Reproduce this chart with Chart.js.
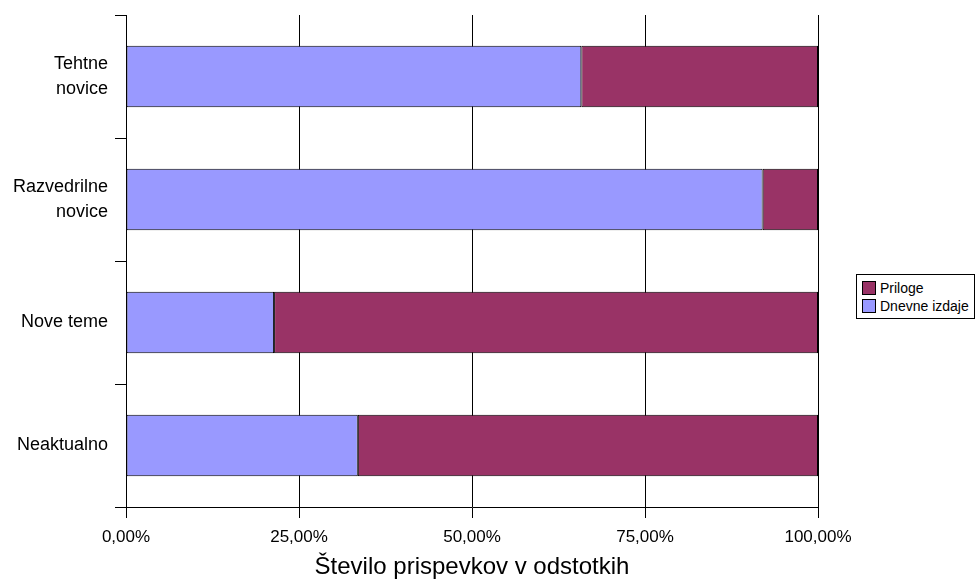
<!DOCTYPE html>
<html>
<head>
<meta charset="utf-8">
<script src="https://cdn.jsdelivr.net/npm/chart.js@4/dist/chart.umd.min.js"></script>
<style>
  html, body { margin: 0; padding: 0; background: #fff; }
  #wrap { position: relative; width: 976px; height: 582px; }
  canvas { display: block; }
  #legend {
    position: absolute; left: 856px; top: 274px; width: 117px; height: 43px;
    border: 1px solid #000; background: #fff;
    font-family: "Liberation Sans", Arial, sans-serif; font-size: 14px; color: #000;
  }
  .item { position: absolute; left: 5px; height: 16px; line-height: 16px; white-space: nowrap; }
  .sw { display: inline-block; width: 14px; height: 14px; border: 1px solid #000; box-sizing: border-box; vertical-align: top; margin-top: 1px; margin-right: 4px; }
</style>
</head>
<body>
<div id="wrap">
  <canvas id="c" width="976" height="582"></canvas>
  <div id="legend"></div>
</div>
<script>
const categories = [["Tehtne", "novice"], ["Razvedrilne", "novice"], "Nove teme", "Neaktualno"];
const dnevneIzdaje = [65.8, 92.0, 21.4, 33.5];
const priloge = [34.2, 8.0, 78.6, 66.5];
const seriesNames = ["Dnevne izdaje", "Priloge"];
const seriesColors = ["#9999FF", "#993366"];
const xTicks = [0, 25, 50, 75, 100];
const xTitle = "Število prispevkov v odstotkih";

const FONT = '"Liberation Sans", Arial, sans-serif';

new Chart(document.getElementById('c'), {
  type: 'bar',
  data: {
    labels: categories,
    datasets: [
      { label: seriesNames[0], data: dnevneIzdaje, backgroundColor: seriesColors[0], borderColor: '#000', borderWidth: 1, borderSkipped: false, categoryPercentage: 1, barPercentage: 0.5 },
      { label: seriesNames[1], data: priloge, backgroundColor: seriesColors[1], borderColor: '#000', borderWidth: 1, borderSkipped: false, categoryPercentage: 1, barPercentage: 0.5 }
    ]
  },
  options: {
    indexAxis: 'y',
    responsive: false,
    animation: false,
    layout: { padding: { left: 0, right: 158, top: 15, bottom: 0 } },
    plugins: { legend: { display: false }, tooltip: { enabled: false } },
    scales: {
      x: {
        stacked: true, min: 0, max: 100,
        afterBuildTicks: (s) => { s.ticks = xTicks.map(v => ({ value: v })); },
        afterFit: (s) => { s.height = 75; s.paddingLeft = 0; s.paddingRight = 0; },
        grid: { color: '#000', lineWidth: 1, tickLength: 11, drawTicks: true },
        border: { color: '#000', width: 1 },
        ticks: {
          color: '#000', padding: 9, maxRotation: 0,
          font: { family: FONT, size: 17 },
          callback: (v) => Number(v).toFixed(2).replace('.', ',') + '%'
        },
        title: { display: true, text: xTitle, color: '#000', font: { family: FONT, size: 24 }, padding: { top: 0, bottom: 0 } }
      },
      y: {
        stacked: true,
        afterFit: (s) => { s.width = 126; s.paddingTop = 0; s.paddingBottom = 0; },
        grid: { offset: true, drawOnChartArea: false, drawTicks: true, tickLength: 11, color: '#000' },
        border: { color: '#000', width: 1 },
        ticks: { color: '#000', padding: 7, font: { family: FONT, size: 18, lineHeight: 1.4 } }
      }
    }
  }
});

// legend (reverse order like the reference)
const lg = document.getElementById('legend');
[1, 0].forEach((i, k) => {
  const d = document.createElement('div');
  d.className = 'item';
  d.style.top = (5 + k * 18) + 'px';
  d.innerHTML = '<span class="sw" style="background:' + seriesColors[i] + '"></span>' + seriesNames[i];
  lg.appendChild(d);
});
</script>
</body>
</html>
